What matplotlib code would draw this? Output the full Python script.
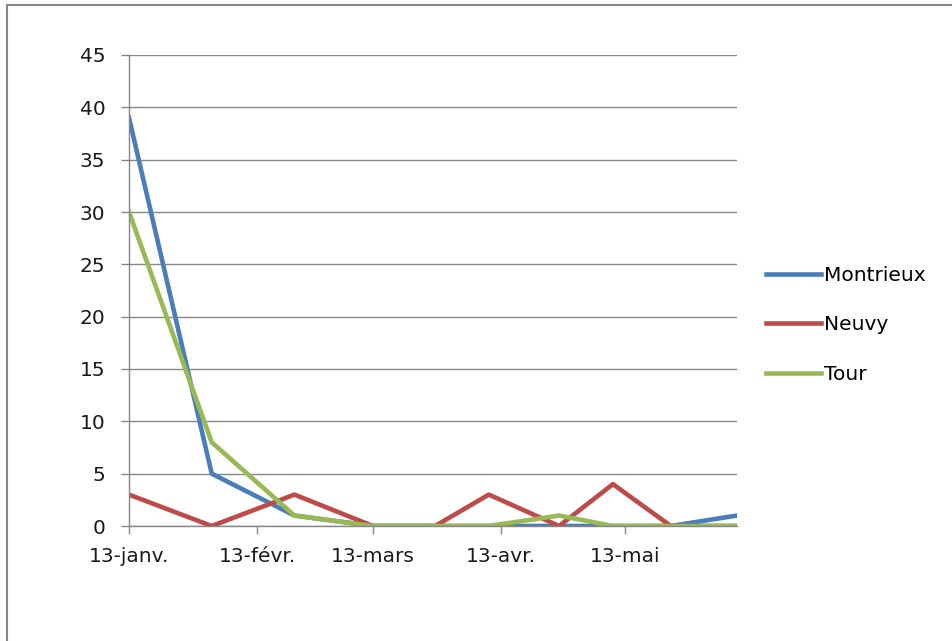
import matplotlib
matplotlib.use("Agg")
import matplotlib.pyplot as plt
import matplotlib.dates as mdates
from matplotlib.lines import Line2D
from datetime import date

plt.rcParams['font.family'] = ['DejaVu Sans']

# data
dates = [date(2013, 1, 13), date(2013, 2, 2), date(2013, 2, 22), date(2013, 3, 13),
         date(2013, 3, 28), date(2013, 4, 10), date(2013, 4, 27), date(2013, 5, 10),
         date(2013, 5, 24), date(2013, 6, 9)]
montrieux = [39, 5, 1, 0, 0, 0, 0, 0, 0, 1]
neuvy = [3, 0, 3, 0, 0, 3, 0, 4, 0, 0]
tour = [30, 8, 1, 0, 0, 0, 1, 0, 0, 0]

tick_dates = [date(2013, 1, 13), date(2013, 2, 13), date(2013, 3, 13),
              date(2013, 4, 13), date(2013, 5, 13)]
tick_labels = ["13-janv.", "13-févr.", "13-mars", "13-avr.", "13-mai"]
y_ticks = list(range(0, 50, 5))

grid_col = "#868686"
fsize = 14.5

fig = plt.figure(figsize=(9.52, 6.41), dpi=100)
ax = fig.add_axes([129 / 952, 115 / 641, 608 / 952, 471 / 641])

ax.plot(dates, montrieux, color="#4A7EBB", lw=3.3, label="Montrieux")
ax.plot(dates, neuvy, color="#BE4B48", lw=3.3, label="Neuvy")
ax.plot(dates, tour, color="#98B954", lw=3.3, label="Tour")

ax.set_xlim(dates[0], dates[-1])
ax.set_ylim(0, 45)
ax.set_yticks(y_ticks)
ax.set_xticks([mdates.date2num(d) for d in tick_dates])
ax.set_xticklabels(tick_labels)

ax.grid(axis="y", color=grid_col, lw=1.0)
ax.set_axisbelow(True)
for s in ["top", "right"]:
    ax.spines[s].set_visible(False)
for s in ["left", "bottom"]:
    ax.spines[s].set_color(grid_col)
    ax.spines[s].set_linewidth(1.0)
ax.tick_params(axis="both", color=grid_col, length=6, width=1.0, labelsize=fsize,
               labelcolor="#1a1a1a")
ax.tick_params(axis="y", pad=11)
ax.tick_params(axis="x", pad=9)

ax.legend(loc="center left", bbox_to_anchor=(758 / 952, 1 - 325 / 641),
          bbox_transform=fig.transFigure, frameon=False, fontsize=fsize,
          handlelength=2.75, handletextpad=0.15, labelspacing=1.5, borderaxespad=0)

# outer chart border (only left and top visible)
fig.add_artist(Line2D([7 / 952, 7 / 952], [0, 1 - 5 / 641], transform=fig.transFigure,
                      color=grid_col, lw=1.5))
fig.add_artist(Line2D([7 / 952, 1], [1 - 5 / 641, 1 - 5 / 641], transform=fig.transFigure,
                      color=grid_col, lw=1.5))

fig.savefig("out.png", dpi=100)
